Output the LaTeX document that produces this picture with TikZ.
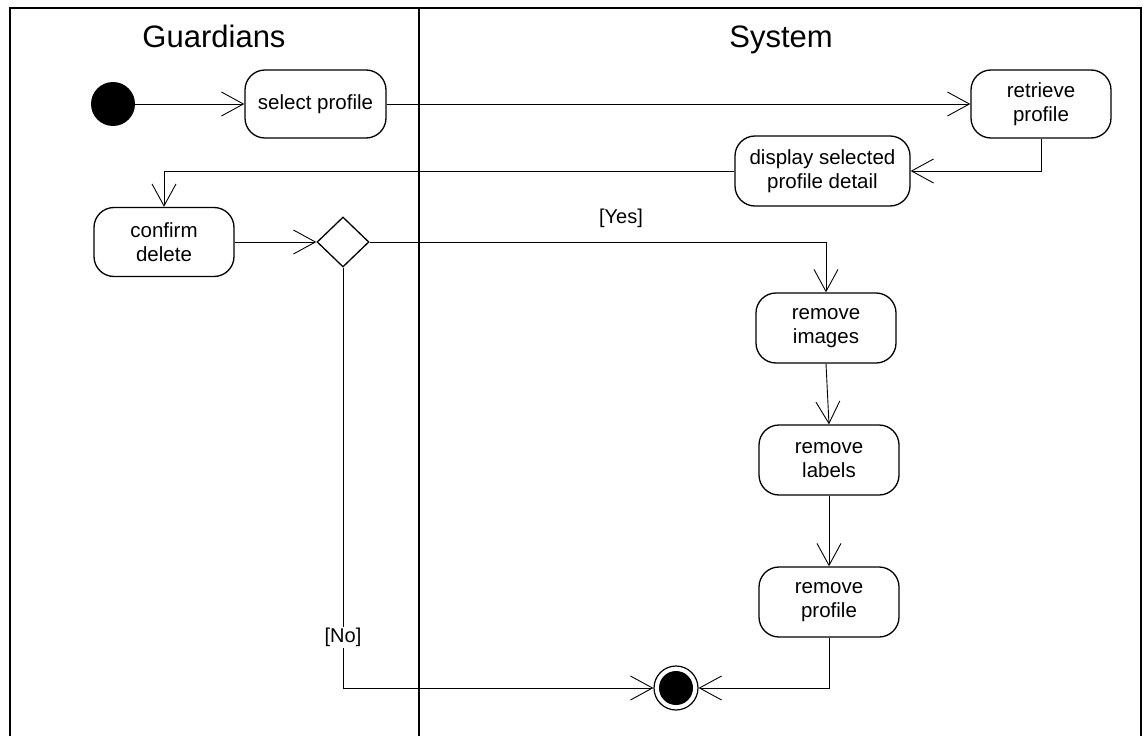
\documentclass[tikz,border=0pt]{standalone}
\usepackage{fontspec}
\setmainfont{Liberation Sans}
\usetikzlibrary{arrows.meta,shapes.geometric}
\begin{document}
\begin{tikzpicture}[x=1pt,y=-1pt,
  action/.style={draw,line width=1.3pt,rounded corners=20pt,minimum width=140pt,
    minimum height=68pt,align=center,inner sep=2pt,font=\fontsize{20.5}{24}\selectfont},
  lanetitle/.style={anchor=base,font=\fontsize{31}{36}\selectfont},
  guard/.style={font=\fontsize{20}{24}\selectfont,inner sep=1pt},
  flow/.style={line width=0.9pt,-{Straight Barb[length=22pt,width=24pt,line width=0.9pt]}},
  lane/.style={line width=1.6pt}]
\useasboundingbox (0,0) rectangle (1144,736);
% swimlane frame
\draw[lane] (10,736) -- (10,8) -- (1141,8) -- (1141,736);
\draw[lane] (419,8) -- (419,736);
\node[lanetitle] (tg) at (214,47) {Guardians};
\node[lanetitle] (ts) at (781,47) {System};
% start and end
\node[circle,fill=black,minimum size=44pt,inner sep=0pt] (init) at (113,104) {};
\node[circle,draw,line width=1.2pt,minimum size=44pt,inner sep=0pt] (fin) at (676,688) {};
\node[circle,fill=black,minimum size=34pt,inner sep=0pt] (fincore) at (676,688) {};
% actions
\node[action,minimum width=141pt] (sel) at (315.5,104) {select profile};
\node[action] (ret) at (1041,104) {retrieve\\profile};
\node[action,minimum width=175pt,minimum height=70pt] (disp) at (822.5,171) {display selected\\profile detail};
\node[action,minimum height=69pt] (conf) at (164,242) {confirm\\delete};
\node[action,minimum height=70pt] (img) at (826,328) {remove\\images};
\node[action,minimum height=70pt] (lab) at (829,460) {remove\\labels};
\node[action,minimum height=70pt] (prof) at (829,602) {remove\\profile};
% decision
\node[diamond,draw,line width=1.3pt,minimum width=52pt,minimum height=50pt,inner sep=0pt] (dec) at (343,242) {};
% flows
\draw[flow] (init) -- (sel);
\draw[flow] (sel) -- (ret);
\draw[flow] (ret.south) |- (disp.east);
\draw[flow] (disp.west) -| (conf.north);
\draw[flow] (conf) -- (dec.west);
\draw[flow] (dec.east) -| (img.north);
\node[guard] (yes) at (621,218) {[Yes]};
\draw[flow] (dec.south) |- node[guard,fill=white,pos=0.44] (no) {[No]} (fin.west);
\draw[flow] (img.south) -- (lab.north);
\draw[flow] (lab) -- (prof);
\draw[flow] (prof.south) |- (fin.east);
\end{tikzpicture}
\end{document}
